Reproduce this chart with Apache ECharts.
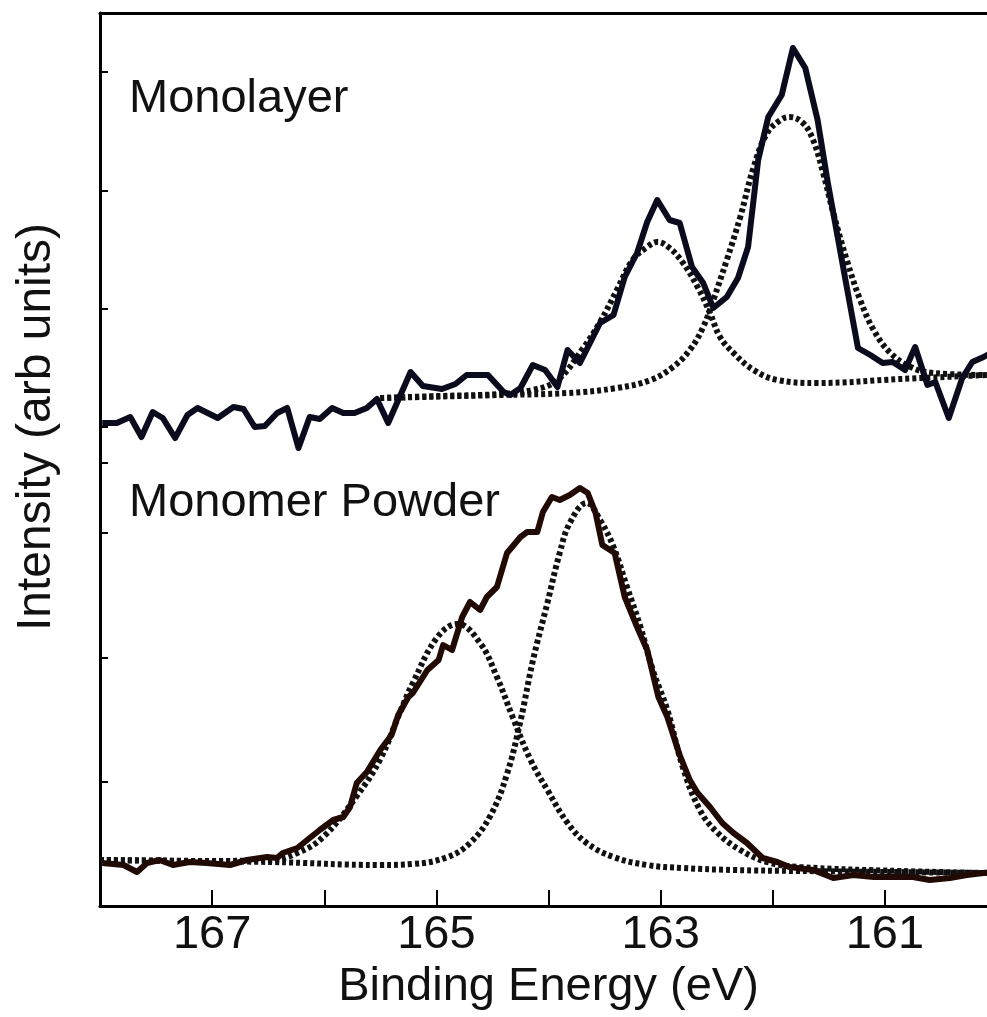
<!DOCTYPE html>
<html>
<head>
<meta charset="utf-8">
<title>S 2p XPS</title>
<script src="https://cdn.jsdelivr.net/npm/echarts@6.0.0/dist/echarts.min.js"></script>
<style>
body{margin:0;background:#fff;}
#chart{width:987px;height:1017px;}
</style>
</head>
<body>
<div id="chart"></div>
<script>
// binding energies (eV) and intensities (arb units)
var monolayerEV = [167.98,167.85,167.73,167.63,167.53,167.44,167.33,167.22,167.13,166.95,166.81,166.72,166.62,166.53,166.42,166.33,166.23,166.13,166.04,165.93,165.83,165.73,165.62,165.53,165.43,165.23,165.12,164.95,164.83,164.73,164.54,164.40,164.34,164.25,164.14,164.03,163.92,163.83,163.72,163.54,163.42,163.32,163.21,163.12,163.03,162.92,162.83,162.72,162.62,162.53,162.41,162.31,162.22,162.13,162.04,161.92,161.82,161.71,161.60,161.51,161.34,161.24,161.13,161.02,160.93,160.82,160.73,160.62,160.55,160.43,160.31,160.22,160.12,160.04];
var monolayerI = [483,483,489,469,494,488,468,491,498,488,499,497,479,480,493,498,458,489,487,498,493,493,498,507,483,534,520,517,522,531,531,514,511,518,541,536,519,556,543,583,591,629,653,684,706,686,683,639,623,598,609,628,659,746,789,811,858,838,786,724,619,558,551,543,544,536,559,521,524,488,528,544,549,554];

var monolayerFit1EV = [165.50,164.97,164.43,164.14,163.92,163.69,163.54,163.39,163.25,163.12,163.03,162.92,162.80,162.67,162.56,162.47,162.35,162.17,161.96,161.60,160.86,160.09];
var monolayerFit1I = [508,510,512,516,526,558,584,616,646,659,664,658,643,619,593,569,553,536,526,523,527,531];

var monolayerFit2EV = [165.50,164.43,163.83,163.39,163.09,162.89,162.74,162.62,162.53,162.41,162.29,162.17,162.05,161.93,161.85,161.73,161.64,161.55,161.46,161.34,161.22,161.10,160.95,160.77,160.57,160.09];
var monolayerFit2I = [508,511,513,518,526,539,556,579,606,646,689,739,773,786,789,783,766,733,693,646,606,576,553,539,533,531];

var powderEV = [167.98,167.79,167.67,167.58,167.47,167.35,167.20,167.05,166.84,166.69,166.51,166.42,166.37,166.24,166.13,166.04,165.92,165.83,165.77,165.71,165.62,165.50,165.40,165.34,165.25,165.21,165.08,164.98,164.94,164.86,164.77,164.70,164.61,164.55,164.46,164.37,164.25,164.19,164.10,164.05,163.97,163.90,163.81,163.72,163.65,163.58,163.52,163.41,163.32,163.21,163.12,163.02,162.94,162.83,162.74,162.67,162.56,162.45,162.35,162.23,162.09,161.96,161.85,161.64,161.46,161.28,161.10,160.93,160.75,160.60,160.42,160.27,160.12,160.04];
var powderI = [43,41,34,43,46,41,44,43,41,46,49,48,53,58,68,76,86,89,99,123,134,156,171,191,209,213,236,246,261,256,289,304,296,309,319,353,369,374,374,394,409,406,411,418,413,393,361,353,309,279,256,209,189,151,126,113,99,83,73,63,48,44,39,36,28,31,29,29,29,26,28,31,33,34];

var powderFitAEV = [168.00,167.11,166.48,166.24,166.01,165.71,165.50,165.32,165.21,164.99,164.81,164.61,164.46,164.32,164.16,164.01,163.83,163.66,163.42,163.12,162.80,162.35,161.76,160.09];
var powderFitAI = [46,45,46,53,69,110,147,195,223,269,282,263,229,189,146,116,83,63,49,41,38,36,35,33];

var powderFitBEV = [168.00,166.48,165.50,165.21,164.90,164.70,164.52,164.37,164.25,164.14,164.01,163.90,163.81,163.66,163.54,163.42,163.30,163.18,163.07,162.94,162.80,162.65,162.50,162.29,162.05,161.76,160.86,160.09];
var powderFitBI = [46,44,41,42,49,63,90,132,185,245,303,353,383,403,386,359,319,279,236,196,138,96,74,56,44,39,35,33];

// ticks on the intensity axis (two stacked panels)
var yTicks = [124,248,373,443,479,597,715,834];
var xLabels = [161,163,165,167];

var FONT = '"Liberation Sans", Arial, sans-serif';

function pairs(xs, ys){
    var out = [];
    for(var i=0; i<xs.length; i++){
        out.push([xs[i], ys[i]]);
    }
    return out;
}

function fitSeries(xs, ys){
    return {
        type: 'line',
        data: pairs(xs, ys),
        symbol: 'none',
        smooth: 0.4,
        clip: false,
        lineStyle: {color: '#111', width: 6, type: [4, 3]},
        z: 2
    };
}

function dataSeries(xs, ys, color){
    return {
        type: 'line',
        data: pairs(xs, ys),
        symbol: 'none',
        clip: false,
        lineStyle: {color: color, width: 6, join: 'round'},
        z: 3
    };
}

var chart = echarts.init(document.getElementById('chart'));

var option = {
    animation: false,
    grid: {left: 100, right: -10, top: 13, bottom: 111, outerBoundsMode: 'none'},
    xAxis: [{
        type: 'value',
        min: 160,
        max: 168,
        interval: 1,
        inverse: true,
        name: 'Binding Energy (eV)',
        nameLocation: 'middle',
        nameGap: 55,
        nameTextStyle: {fontSize: 47, fontFamily: FONT, color: '#111'},
        axisLine: {lineStyle: {color: '#000', width: 3}},
        axisTick: {inside: true, length: 16, lineStyle: {color: '#000', width: 2}},
        axisLabel: {
            margin: 6,
            fontSize: 47,
            fontFamily: FONT,
            color: '#111',
            formatter: function(v){
                return xLabels.indexOf(Math.round(v)) >= 0 ? String(Math.round(v)) : '';
            }
        },
        splitLine: {show: false}
    }, {
        // top frame line only
        type: 'value',
        position: 'top',
        min: 160,
        max: 168,
        inverse: true,
        axisLine: {onZero: false, lineStyle: {color: '#000', width: 3}},
        axisTick: {show: false},
        axisLabel: {show: false},
        splitLine: {show: false}
    }],
    yAxis: {
        type: 'value',
        min: 0,
        max: 893,
        axisLine: {show: true, lineStyle: {color: '#000', width: 3}},
        axisTick: {show: true, inside: true, length: 8, customValues: yTicks, lineStyle: {color: '#000', width: 2}},
        axisLabel: {show: false},
        splitLine: {show: false}
    },
    graphic: [
        {type: 'text', x: 129, y: 99, style: {text: 'Monolayer', font: '47px ' + FONT, fill: '#111', verticalAlign: 'middle'}},
        {type: 'text', x: 129, y: 503, style: {text: 'Monomer Powder', font: '47px ' + FONT, fill: '#111', verticalAlign: 'middle'}},
        {type: 'text', x: 37, y: 427, rotation: Math.PI / 2, style: {text: 'Intensity (arb units)', font: '48px ' + FONT, fill: '#111', align: 'center', verticalAlign: 'middle'}}
    ],
    series: [
        fitSeries(monolayerFit1EV, monolayerFit1I),
        fitSeries(monolayerFit2EV, monolayerFit2I),
        fitSeries(powderFitAEV, powderFitAI),
        fitSeries(powderFitBEV, powderFitBI),
        dataSeries(monolayerEV, monolayerI, '#0b0b1e'),
        dataSeries(powderEV, powderI, '#220a04')
    ]
};

chart.setOption(option);
</script>
</body>
</html>
